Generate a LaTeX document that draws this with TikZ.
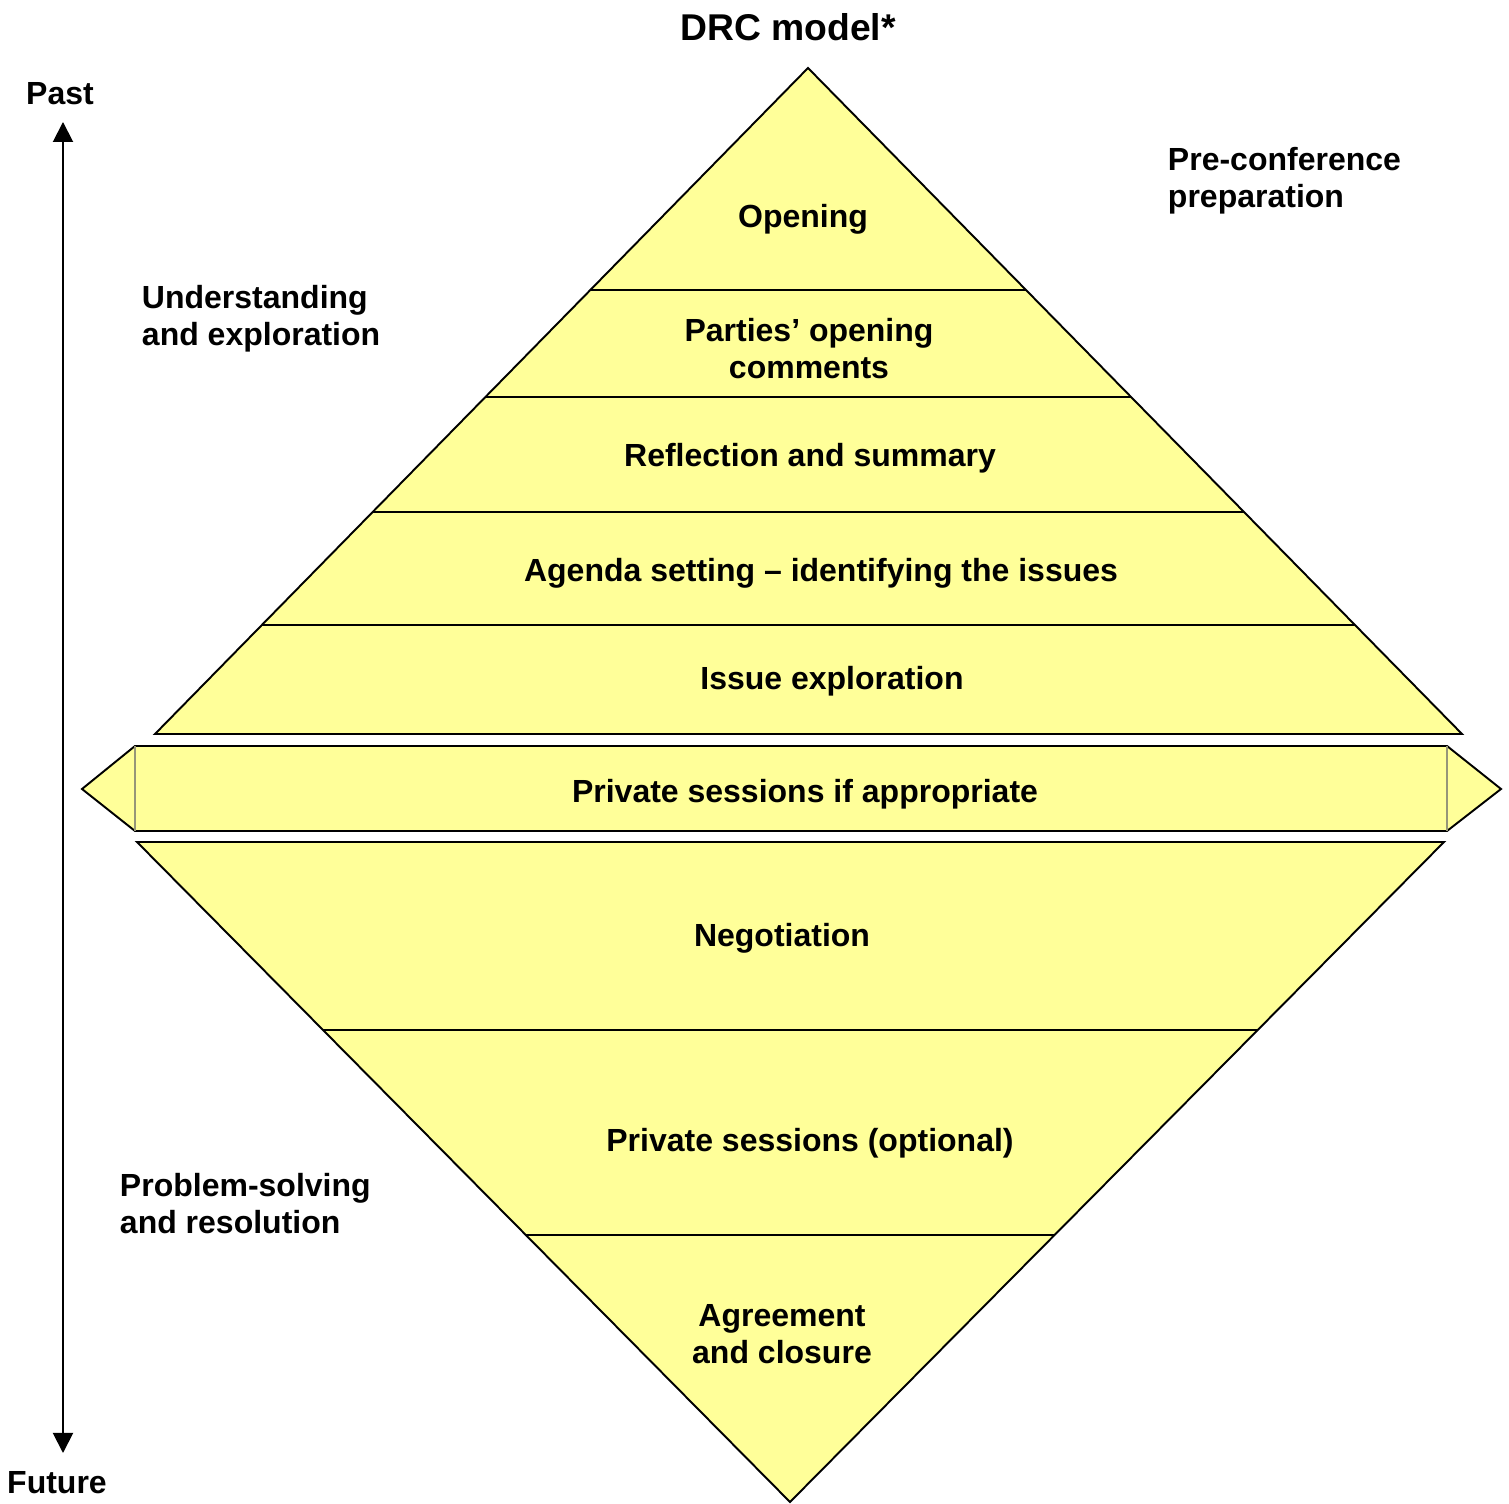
\documentclass[tikz,border=0pt]{standalone}
\usepackage{fontspec}
\setmainfont{Liberation Sans}
\usetikzlibrary{arrows.meta}
\definecolor{drcyellow}{RGB}{255,255,153}
\definecolor{drcgrey}{RGB}{150,150,120}

\begin{document}
\begin{tikzpicture}[x=0.01cm, y=-0.01cm, line width=0.55pt,
  stage/.style={font=\bfseries\fontsize{9.1}{10.5}\selectfont, align=center, inner sep=0pt, yshift=-0.8pt},
  side/.style={font=\bfseries\fontsize{9.1}{10.5}\selectfont, align=left, inner sep=0pt, anchor=west}]
\useasboundingbox (0,0) rectangle (1509,1504);

% Upper triangle with its stages
\draw[fill=drcyellow] (808,68) -- (1462,734) -- (155,734) -- cycle;
\begin{scope}
\clip (808,68) -- (1462,734) -- (155,734) -- cycle;
\foreach \y in {290,397,512,625} \draw (100,\y) -- (1500,\y);
\end{scope}

% Band for private sessions
\draw[fill=drcyellow] (135,746) -- (1447,746) -- (1501,789) -- (1447,831) -- (135,831) -- (82,789) -- cycle;
\draw[drcgrey, line width=0.3pt] (135,746) -- (135,831);
\draw[drcgrey, line width=0.3pt] (1447,746) -- (1447,831);

% Lower triangle with its stages
\draw[fill=drcyellow] (137,842) -- (1444,842) -- (790,1502) -- cycle;
\begin{scope}
\clip (137,842) -- (1444,842) -- (790,1502) -- cycle;
\foreach \y in {1030,1235} \draw (100,\y) -- (1500,\y);
\end{scope}

% Stage labels
\node[font=\bfseries\fontsize{10.6}{12}\selectfont] (title) at (788,27) {DRC model*};
\node[stage] (opening) at (803,216) {Opening};
\node[stage] (parties) at (809,346) {Parties’ opening\\comments};
\node[stage] (reflect) at (810,455) {Reflection and summary};
\node[stage] (agenda) at (821,570) {Agenda setting -- identifying the issues};
\node[stage] (issue) at (832,678) {Issue exploration};
\node[stage] (private) at (805,791) {Private sessions if appropriate};
\node[stage] (negot) at (782,935) {Negotiation};
\node[stage] (privopt) at (810,1140) {Private sessions (optional)};
\node[stage] (agree) at (782,1331) {Agreement\\and closure};

% Side labels
\node[side] (under) at (141,319) {Understanding\\and exploration};
\node[side] (problem) at (119,1204) {Problem-solving\\and resolution};
\node[side] (precon) at (1167,181) {Pre-conference\\preparation};

% Time axis
\node[stage] (past) at (60,91) {Past};
\node[stage] (future) at (57,1480) {Future};
\coordinate (ptop) at (63,122);
\coordinate (pbot) at (63,1453);
\draw[{Triangle[width=0.2cm,length=0.2cm]}-{Triangle[width=0.2cm,length=0.2cm]}] (ptop) -- (pbot);
\end{tikzpicture}
\end{document}
